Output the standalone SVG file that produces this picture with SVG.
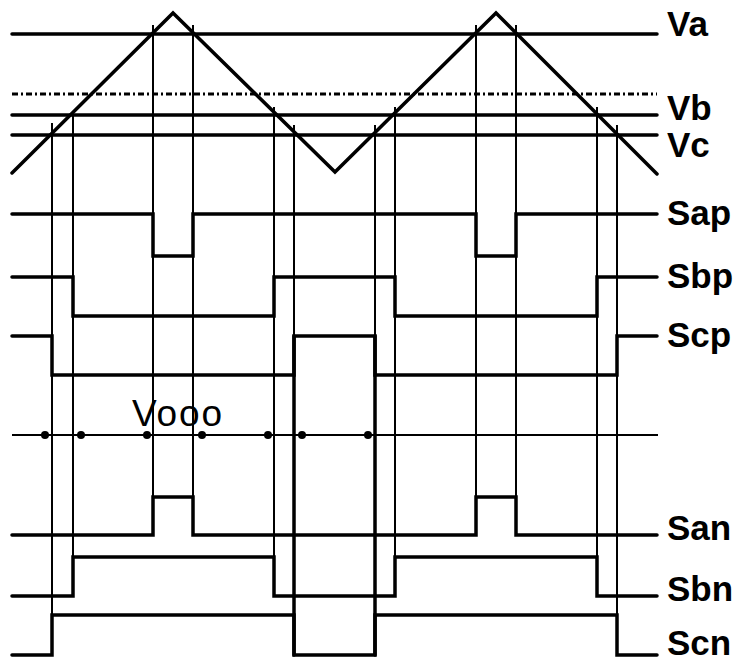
<svg xmlns="http://www.w3.org/2000/svg" width="739" height="661" viewBox="0 0 739 661">
<style>
.bg{fill:#fff}
.thick{fill:none;stroke:#000;stroke-width:3.5;stroke-linejoin:miter;stroke-linecap:round}
.guide{fill:none;stroke:#000;stroke-width:2}
.dash{fill:none;stroke:#000;stroke-width:3;stroke-dasharray:6 3 2 3}
.thin{fill:none;stroke:#000;stroke-width:2}
.lbl{font-family:"Liberation Sans",Arial,sans-serif;font-weight:bold;font-size:35px;fill:#000}
.vlbl{font-family:"Liberation Sans",Arial,sans-serif;font-size:37px;fill:#000}
.dot{fill:#000}
</style>
<rect class="bg" x="0" y="0" width="739" height="661"/>
<g id="guides">
<path class="guide" d="M52,123V655M73,112V596M153,25V535M193,25V535M274,107V596M294,125V655M375,125V655M395,107V596M476,25V535M516,25V535M597,107V596M617,125V655"/>
<path class="thick" d="M294,336V655M375,336V655"/>
</g>
<g id="reference-levels">
<path class="thick" d="M12,34H657"/>
<path class="dash" d="M12,94H657"/>
<path class="thick" d="M12,115H657"/>
<path class="thick" d="M12,135H657"/>
</g>
<g id="carrier">
<path class="thick" d="M12,173L173,13L335,172L496,13L657,174"/>
</g>
<g id="Sap"><path class="thick" d="M12,214H153V256H193V214H476V256H516V214H657"/><text class="lbl" x="667" y="225">Sap</text></g>
<g id="Sbp"><path class="thick" d="M12,277H73V316H274V277H395V316H597V277H657"/><text class="lbl" x="667" y="288">Sbp</text></g>
<g id="Scp"><path class="thick" d="M12,336H52V375H294V336H375V375H617V336H657"/><text class="lbl" x="667" y="347">Scp</text></g>
<g id="Vooo">
<path class="thin" d="M12,435H658"/>
<circle class="dot" cx="45" cy="435" r="4"/>
<circle class="dot" cx="81" cy="435" r="4"/>
<circle class="dot" cx="147" cy="435" r="4"/>
<circle class="dot" cx="202" cy="435" r="4"/>
<circle class="dot" cx="268" cy="435" r="4"/>
<circle class="dot" cx="302" cy="435" r="4"/>
<circle class="dot" cx="368" cy="435" r="4"/>
<text class="vlbl" x="132" y="426" textLength="90">Vooo</text>
</g>
<g id="San"><path class="thick" d="M12,535H153V497H193V535H476V497H516V535H657"/><text class="lbl" x="667" y="540">San</text></g>
<g id="Sbn"><path class="thick" d="M12,596H73V557H274V596H395V557H597V596H657"/><text class="lbl" x="667" y="601">Sbn</text></g>
<g id="Scn"><path class="thick" d="M12,655H52V615H294V655H375V615H617V655H657"/><text class="lbl" x="667" y="655">Scn</text></g>
<g id="level-labels">
<text class="lbl" x="667" y="36">Va</text>
<text class="lbl" x="667" y="120">Vb</text>
<text class="lbl" x="667" y="157">Vc</text>
</g>
</svg>
